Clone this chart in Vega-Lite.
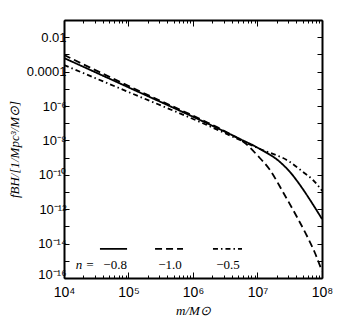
{
  "$schema": "https://vega.github.io/schema/vega-lite/v6.json",
  "width": 258,
  "height": 258,
  "autosize": "none",
  "padding": {"left": 64, "top": 20, "right": 18, "bottom": 47},
  "background": "white",
  "config": {
    "view": {"stroke": null},
    "axis": {
      "grid": false,
      "domainColor": "black",
      "domainWidth": 2,
      "tickColor": "black",
      "tickWidth": 1,
      "labelColor": "black",
      "labelFont": "Liberation Sans",
      "labelFontSize": 13,
      "labelFlush": false,
      "labelOverlap": false,
      "titleColor": "black",
      "titleFont": "Liberation Serif",
      "titleFontStyle": "italic",
      "titleFontWeight": "normal",
      "titleFontSize": 13
    }
  },
  "datasets": {
    "curves": [
      {"n": "-0.8", "m": 1e4, "f": 6.18e-4},
      {"n": "-0.8", "m": 1e5, "f": 1.21e-5},
      {"n": "-0.8", "m": 1.285e6, "f": 1.53e-7},
      {"n": "-0.8", "m": 5.36e6, "f": 1.21e-8},
      {"n": "-0.8", "m": 1.094e7, "f": 3.16e-9},
      {"n": "-0.8", "m": 2.23e7, "f": 5.55e-10},
      {"n": "-0.8", "m": 3.19e7, "f": 1.46e-10},
      {"n": "-0.8", "m": 4.56e7, "f": 2.55e-11},
      {"n": "-0.8", "m": 7.0e7, "f": 2.29e-12},
      {"n": "-0.8", "m": 1e8, "f": 2.69e-13},
      {"n": "-1.0", "m": 1e4, "f": 9.23e-4},
      {"n": "-1.0", "m": 2.15e5, "f": 3.81e-6},
      {"n": "-1.0", "m": 1.285e6, "f": 1.75e-7},
      {"n": "-1.0", "m": 3.75e6, "f": 2.36e-8},
      {"n": "-1.0", "m": 6.4e6, "f": 7.06e-9},
      {"n": "-1.0", "m": 9.82e6, "f": 1.42e-9},
      {"n": "-1.0", "m": 1.56e7, "f": 1.9e-10},
      {"n": "-1.0", "m": 2.48e7, "f": 1.0e-11},
      {"n": "-1.0", "m": 4.09e7, "f": 3.52e-13},
      {"n": "-1.0", "m": 5.85e7, "f": 2.77e-14},
      {"n": "-1.0", "m": 7.78e7, "f": 2.84e-15},
      {"n": "-1.0", "m": 1e8, "f": 2.5e-16},
      {"n": "-0.5", "m": 1e4, "f": 2.42e-4},
      {"n": "-0.5", "m": 1e5, "f": 6.5e-6},
      {"n": "-0.5", "m": 1.285e6, "f": 1.17e-7},
      {"n": "-0.5", "m": 1.094e7, "f": 3.16e-9},
      {"n": "-0.5", "m": 3.19e7, "f": 5.55e-10},
      {"n": "-0.5", "m": 5.07e7, "f": 1.46e-10},
      {"n": "-0.5", "m": 7.25e7, "f": 4.99e-11},
      {"n": "-0.5", "m": 1e8, "f": 1.2e-11}
    ],
    "legendLines": [
      {"n": "-0.8", "m": 3.61e4, "f": 4.9e-15},
      {"n": "-0.8", "m": 9.5e4, "f": 4.9e-15},
      {"n": "-1.0", "m": 2.58e5, "f": 4.9e-15},
      {"n": "-1.0", "m": 7.0e5, "f": 4.9e-15},
      {"n": "-0.5", "m": 2.04e6, "f": 4.9e-15},
      {"n": "-0.5", "m": 5.75e6, "f": 4.9e-15}
    ],
    "legendText": [
      {"label": "−0.8", "m": 6.2e4, "f": 5.8e-16},
      {"label": "−1.0", "m": 4.4e5, "f": 5.8e-16},
      {"label": "−0.5", "m": 3.49e6, "f": 5.8e-16}
    ],
    "legendN": [
      {"label": "n =", "m": 2.12e4, "f": 5.8e-16}
    ]
  },
  "layer": [
    {
      "data": {"name": "curves"},
      "mark": {"type": "line", "color": "black", "strokeWidth": 1.8, "interpolate": "monotone", "clip": true},
      "encoding": {
        "x": {
          "field": "m", "type": "quantitative",
          "scale": {"type": "log", "domain": [1e4, 1e8], "nice": false},
          "axis": {
            "orient": "bottom",
            "values": [1e4, 2e4, 3e4, 4e4, 5e4, 6e4, 7e4, 8e4, 9e4, 1e5, 2e5, 3e5, 4e5, 5e5, 6e5, 7e5, 8e5, 9e5, 1e6, 2e6, 3e6, 4e6, 5e6, 6e6, 7e6, 8e6, 9e6, 1e7, 2e7, 3e7, 4e7, 5e7, 6e7, 7e7, 8e7, 9e7, 1e8],
            "labelExpr": "abs(log(datum.value)/LN10 - round(log(datum.value)/LN10)) < 0.001 ? (round(log(datum.value)/LN10) == 4 ? '10⁴' : round(log(datum.value)/LN10) == 5 ? '10⁵' : round(log(datum.value)/LN10) == 6 ? '10⁶' : round(log(datum.value)/LN10) == 7 ? '10⁷' : '10⁸') : ''",
            "tickSize": {"condition": {"test": "abs(log(datum.value)/LN10 - round(log(datum.value)/LN10)) < 0.001", "value": -6}, "value": -3},
            "labelPadding": 13,
            "labelFontSize": 14,
            "title": "m/M⊙",
            "titlePadding": 2
          }
        },
        "y": {
          "field": "f", "type": "quantitative",
          "scale": {"type": "log", "domain": [1e-16, 0.1], "nice": false},
          "axis": {
            "orient": "left",
            "values": [1e-16, 1e-15, 1e-14, 1e-13, 1e-12, 1e-11, 1e-10, 1e-9, 1e-8, 1e-7, 1e-6, 1e-5, 1e-4, 1e-3, 1e-2, 1e-1],
            "labelExpr": "round(log(datum.value)/LN10) == -2 ? '0.01' : round(log(datum.value)/LN10) == -4 ? '0.0001' : round(log(datum.value)/LN10) == -6 ? '10⁻⁶' : round(log(datum.value)/LN10) == -8 ? '10⁻⁸' : round(log(datum.value)/LN10) == -10 ? '10⁻¹⁰' : round(log(datum.value)/LN10) == -12 ? '10⁻¹²' : round(log(datum.value)/LN10) == -14 ? '10⁻¹⁴' : round(log(datum.value)/LN10) == -16 ? '10⁻¹⁶' : ''",
            "labelOffset": {"condition": {"test": "datum.value < 1e-15", "value": -4}, "value": 0},
            "tickSize": -5,
            "labelPadding": 3,
            "title": "fBH/[1/Mpc³/M⊙]",
            "titlePadding": 5
          }
        },
        "strokeDash": {
          "field": "n", "type": "nominal",
          "scale": {"domain": ["-0.8", "-1.0", "-0.5"], "range": [[1, 0], [7, 4], [5, 3, 1.5, 3]]},
          "legend": null
        }
      }
    },
    {
      "data": {"name": "legendLines"},
      "mark": {"type": "line", "color": "black", "strokeWidth": 1.8},
      "encoding": {
        "x": {
          "field": "m", "type": "quantitative",
          "scale": {"type": "log", "domain": [1e4, 1e8], "nice": false},
          "axis": {
            "orient": "top",
            "values": [1e4, 2e4, 3e4, 4e4, 5e4, 6e4, 7e4, 8e4, 9e4, 1e5, 2e5, 3e5, 4e5, 5e5, 6e5, 7e5, 8e5, 9e5, 1e6, 2e6, 3e6, 4e6, 5e6, 6e6, 7e6, 8e6, 9e6, 1e7, 2e7, 3e7, 4e7, 5e7, 6e7, 7e7, 8e7, 9e7, 1e8],
            "labels": false,
            "tickSize": {"condition": {"test": "abs(log(datum.value)/LN10 - round(log(datum.value)/LN10)) < 0.001", "value": -6}, "value": -3},
            "title": null
          }
        },
        "y": {
          "field": "f", "type": "quantitative",
          "scale": {"type": "log", "domain": [1e-16, 0.1], "nice": false},
          "axis": {
            "orient": "right",
            "values": [1e-16, 1e-15, 1e-14, 1e-13, 1e-12, 1e-11, 1e-10, 1e-9, 1e-8, 1e-7, 1e-6, 1e-5, 1e-4, 1e-3, 1e-2, 1e-1],
            "labels": false,
            "tickSize": -5,
            "title": null
          }
        },
        "strokeDash": {
          "field": "n", "type": "nominal",
          "scale": {"domain": ["-0.8", "-1.0", "-0.5"], "range": [[1, 0], [7, 4], [5, 3, 1.5, 3]]},
          "legend": null
        }
      }
    },
    {
      "data": {"name": "legendText"},
      "mark": {"type": "text", "font": "Liberation Serif", "fontSize": 13, "color": "black", "align": "center", "baseline": "middle"},
      "encoding": {
        "x": {"field": "m", "type": "quantitative", "scale": {"type": "log", "domain": [1e4, 1e8], "nice": false}, "axis": null},
        "y": {"field": "f", "type": "quantitative", "scale": {"type": "log", "domain": [1e-16, 0.1], "nice": false}, "axis": null},
        "text": {"field": "label"}
      }
    },
    {
      "data": {"name": "legendN"},
      "mark": {"type": "text", "font": "Liberation Serif", "fontSize": 13, "fontStyle": "italic", "color": "black", "align": "center", "baseline": "middle"},
      "encoding": {
        "x": {"field": "m", "type": "quantitative", "scale": {"type": "log", "domain": [1e4, 1e8], "nice": false}, "axis": null},
        "y": {"field": "f", "type": "quantitative", "scale": {"type": "log", "domain": [1e-16, 0.1], "nice": false}, "axis": null},
        "text": {"field": "label"}
      }
    }
  ],
  "resolve": {"axis": {"x": "independent", "y": "independent"}}
}
